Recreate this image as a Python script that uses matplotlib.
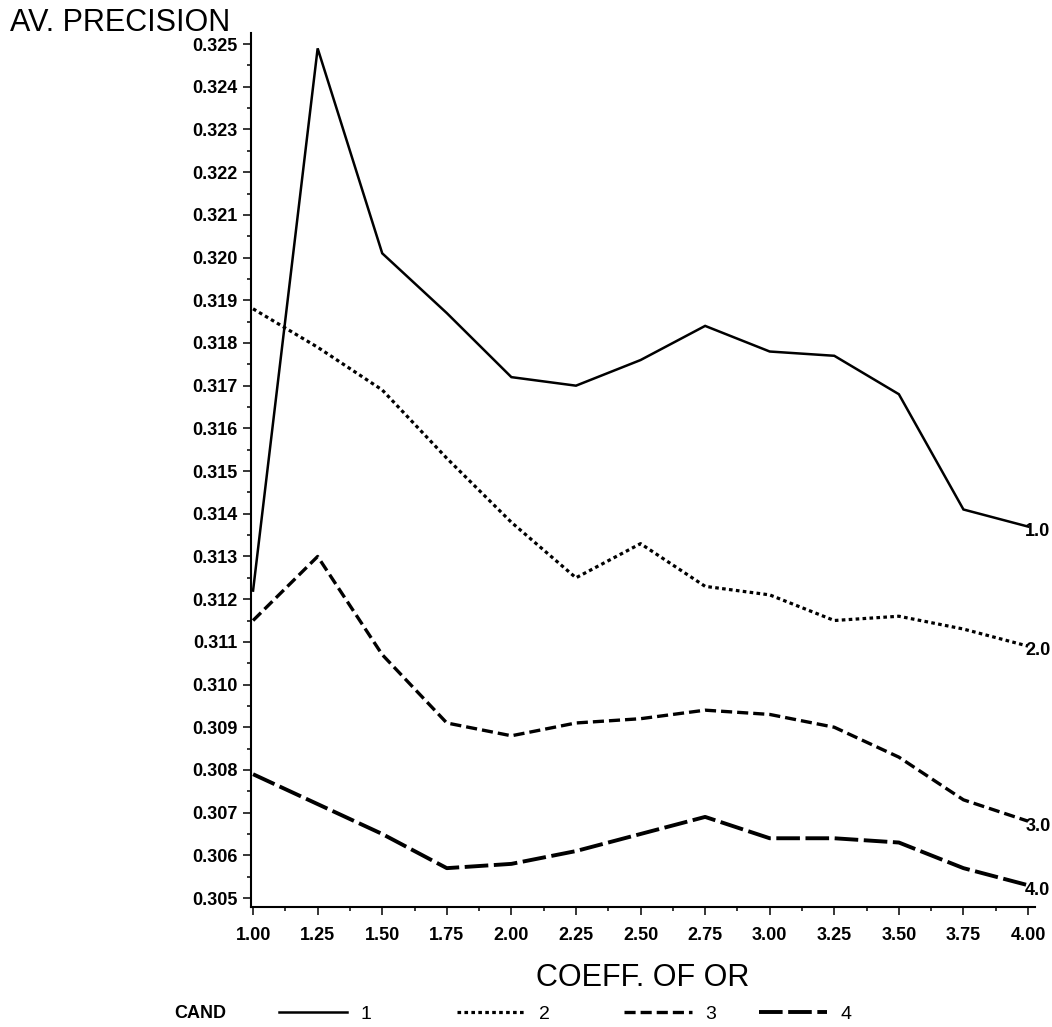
import matplotlib
matplotlib.use("Agg")
import matplotlib.pyplot as plt
from matplotlib.ticker import MultipleLocator
from matplotlib.lines import Line2D

# Average precision by coefficient of OR, one curve per CAND value
coeff = [1.00, 1.25, 1.50, 1.75, 2.00, 2.25, 2.50, 2.75, 3.00, 3.25, 3.50, 3.75, 4.00]
cand1 = [0.3122, 0.3249, 0.3201, 0.3187, 0.3172, 0.3170, 0.3176, 0.3184, 0.3178, 0.3177, 0.3168, 0.3141, 0.3137]
cand2 = [0.3188, 0.3179, 0.3169, 0.3153, 0.3138, 0.3125, 0.3133, 0.3123, 0.3121, 0.3115, 0.3116, 0.3113, 0.3109]
cand3 = [0.3115, 0.3130, 0.3107, 0.3091, 0.3088, 0.3091, 0.3092, 0.3094, 0.3093, 0.3090, 0.3083, 0.3073, 0.3068]
cand4 = [0.3079, 0.3072, 0.3065, 0.3057, 0.3058, 0.3061, 0.3065, 0.3069, 0.3064, 0.3064, 0.3063, 0.3057, 0.3053]
cand_names = ["1", "2", "3", "4"]
end_labels = ["1.0", "2.0", "3.0", "4.0"]

x_ticks = [1.00, 1.25, 1.50, 1.75, 2.00, 2.25, 2.50, 2.75, 3.00, 3.25, 3.50, 3.75, 4.00]
x_tick_labels = ["1.00", "1.25", "1.50", "1.75", "2.00", "2.25", "2.50",
                 "2.75", "3.00", "3.25", "3.50", "3.75", "4.00"]
y_ticks = [0.305 + 0.001 * i for i in range(21)]
y_tick_labels = ["%.3f" % v for v in y_ticks]

plt.rcParams["font.family"] = ["Liberation Sans", "DejaVu Sans"]
plt.rcParams["lines.scale_dashes"] = False

styles = [
    dict(linestyle="-", linewidth=1.8),
    dict(linestyle=(0, (2.6, 2.4)), linewidth=2.3),
    dict(linestyle=(0, (8.0, 3.6)), linewidth=2.4),
    dict(linestyle=(0, (17.0, 4.0)), linewidth=2.8),
]

fig = plt.figure(figsize=(10.52, 10.27), dpi=100)
ax = fig.add_axes([251 / 1052, 120 / 1027, 784 / 1052, 874 / 1027])

series = [cand1, cand2, cand3, cand4]
for vals, st, lab in zip(series, styles, end_labels):
    ax.plot(coeff, vals, color="black", solid_joinstyle="miter", **st)
    ax.annotate(lab, (coeff[-1], vals[-1]), xytext=(-2, -3.5),
                textcoords="offset points", ha="left", va="center",
                fontsize=13, fontweight="bold", annotation_clip=False)

ax.set_xlim(0.992, 4.027)
ax.set_ylim(0.30479, 0.32526)

ax.set_xticks(x_ticks, labels=x_tick_labels)
ax.set_yticks(y_ticks, labels=y_tick_labels)
ax.xaxis.set_minor_locator(MultipleLocator(0.125))
ax.yaxis.set_minor_locator(MultipleLocator(0.0005))

ax.tick_params(axis="both", which="major", direction="out", length=5.5,
               width=1.1, labelsize=13)
ax.tick_params(axis="both", which="minor", direction="out", length=3,
               width=1.1)
ax.tick_params(axis="y", which="major", pad=4)
ax.tick_params(axis="x", which="major", pad=9)
for t in ax.get_xticklabels() + ax.get_yticklabels():
    t.set_fontweight("bold")

for s in ["top", "right"]:
    ax.spines[s].set_visible(False)
for s in ["left", "bottom"]:
    ax.spines[s].set_linewidth(1.5)

ax.set_xlabel("COEFF. OF OR", fontsize=22)
ax.xaxis.set_label_coords(0.5, -0.0812)
ax.xaxis.label.set_va("center")

fig.text(10 / 1052, 1 - 23 / 1027, "AV. PRECISION", fontsize=22,
         ha="left", va="center")

# legend row along the bottom
leg_y = 1 - 1014 / 1027
fig.text(226 / 1052, leg_y, "CAND", fontsize=13, fontweight="bold",
         ha="right", va="center")
leg_x = [279, 457, 624, 759]
for px, st, name in zip(leg_x, styles, cand_names):
    h = Line2D([], [], color="black", **st)
    fig.legend([h], [name], loc="center left",
               bbox_to_anchor=(px / 1052, leg_y), frameon=False,
               fontsize=14, handlelength=3.5, handletextpad=0.7,
               borderpad=0, borderaxespad=0)

fig.savefig("out.png", dpi=100)
